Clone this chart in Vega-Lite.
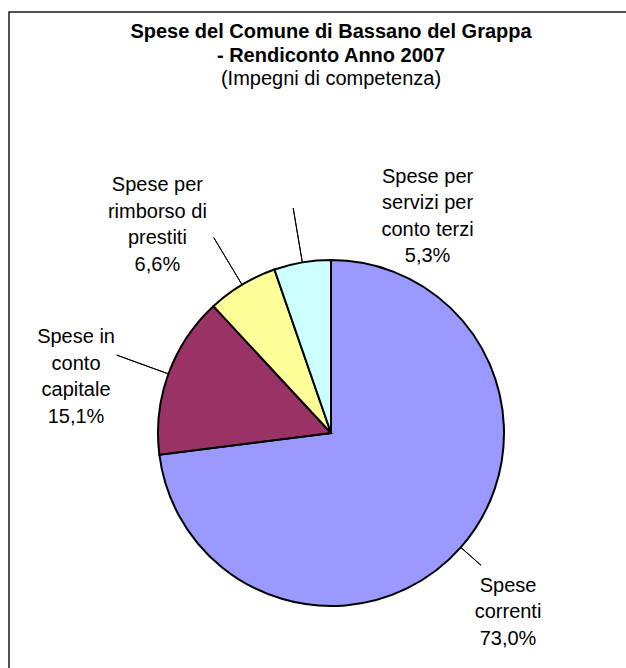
{
  "$schema": "https://vega.github.io/schema/vega-lite/v6.json",
  "width": 644,
  "height": 842,
  "autosize": {"type": "none"},
  "padding": {"left": 9, "top": 12, "right": -27, "bottom": -186},
  "background": "white",
  "view": {"stroke": "#1a1a1a", "strokeWidth": 1.5, "fill": "white"},
  "config": {"view": {"stroke": "#1a1a1a", "strokeWidth": 1.5}},
  "title": {
    "text": ["Spese del Comune di Bassano del Grappa", "- Rendiconto Anno 2007"],
    "subtitle": "(Impegni di competenza)",
    "anchor": "middle",
    "frame": "group",
    "font": "Liberation Sans",
    "fontSize": 20,
    "fontWeight": "bold",
    "color": "black",
    "lineHeight": 24,
    "subtitleFont": "Liberation Sans",
    "subtitleFontSize": 20,
    "subtitleColor": "black",
    "subtitleLineHeight": 24,
    "subtitlePadding": 3,
    "offset": -77
  },
  "data": {
    "values": [
      {"categoria": "Spese correnti", "valore": 73.0, "etichetta": "Spese\ncorrenti\n73,0%"},
      {"categoria": "Spese in conto capitale", "valore": 15.1, "etichetta": "Spese in\nconto\ncapitale\n15,1%"},
      {"categoria": "Spese per rimborso di prestiti", "valore": 6.6, "etichetta": "Spese per\nrimborso di\nprestiti\n6,6%"},
      {"categoria": "Spese per servizi per conto terzi", "valore": 5.3, "etichetta": "Spese per\nservizi per\nconto terzi\n5,3%"}
    ]
  },
  "encoding": {
    "theta": {"field": "valore", "type": "quantitative", "stack": true},
    "order": {"field": "categoria", "type": "ordinal"}
  },
  "resolve": {"scale": {"theta": "independent"}},
  "layer": [
    {
      "mark": {"type": "arc", "radius": 173, "stroke": "black", "strokeWidth": 2},
      "encoding": {
        "color": {
          "field": "categoria",
          "type": "nominal",
          "scale": {
            "domain": ["Spese correnti", "Spese in conto capitale", "Spese per rimborso di prestiti", "Spese per servizi per conto terzi"],
            "range": ["#9999FF", "#993366", "#FFFF99", "#CCFFFF"]
          },
          "legend": null
        }
      }
    },
    {
      "mark": {"type": "arc", "radius": 228, "radius2": 173, "padAngle": 3.2, "fillOpacity": 0, "stroke": "black", "strokeWidth": 1},
      "encoding": {
        "strokeOpacity": {"condition": {"test": "datum.categoria === 'Spese correnti'", "value": 0}, "value": 1}
      }
    },
    {
      "mark": {"type": "arc", "radius": 200, "radius2": 173, "fillOpacity": 0, "stroke": "black", "strokeWidth": 1},
      "encoding": {
        "theta": {"field": "valore", "type": "quantitative", "stack": true, "scale": {"range": [2.29336, 2.29336]}},
        "strokeOpacity": {"condition": {"test": "datum.categoria !== 'Spese correnti'", "value": 0}, "value": 1}
      }
    },
    {
      "mark": {
        "type": "text",
        "radius": 250,
        "font": "Liberation Sans",
        "fontSize": 20,
        "lineHeight": 26.5,
        "lineBreak": "\n",
        "align": "center",
        "baseline": "middle",
        "color": "black",
        "dx": {"expr": "datum.categoria === 'Spese correnti' ? -10.5 : datum.categoria === 'Spese in conto capitale' ? -20 : datum.categoria === 'Spese per rimborso di prestiti' ? -45 : 138"},
        "dy": {"expr": "datum.categoria === 'Spese correnti' ? -12.8 : datum.categoria === 'Spese in conto capitale' ? -10.4 : datum.categoria === 'Spese per rimborso di prestiti' ? -33.5 : -9.8"}
      },
      "encoding": {"text": {"field": "etichetta", "type": "nominal"}}
    }
  ]
}
